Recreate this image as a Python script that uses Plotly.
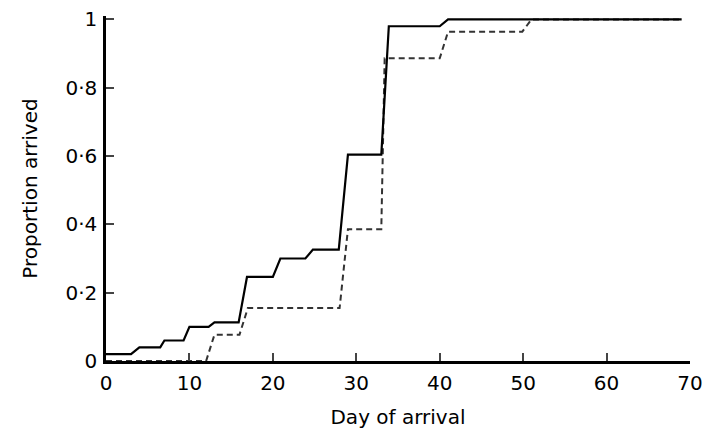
import plotly.graph_objects as go

# Solid curve (corner points)
solid_day = [0, 3, 4, 6.5, 7, 9.3, 10, 12.3, 13, 15.9, 16.9, 20, 20.9, 23.9, 24.8, 27.9, 29, 33, 33.9, 40, 41, 69]
solid_prop = [0.02, 0.02, 0.04, 0.04, 0.06, 0.06, 0.10, 0.10, 0.113, 0.113, 0.246, 0.246, 0.30, 0.30,
              0.326, 0.326, 0.604, 0.604, 0.98, 0.98, 1.0, 1.0]

# Dashed curve
dashed_day = [0, 12, 13, 16, 17, 28, 29, 33, 33.4, 40, 41, 49.9, 51, 69]
dashed_prop = [0, 0, 0.077, 0.077, 0.155, 0.155, 0.386, 0.386, 0.886, 0.886, 0.964, 0.964, 1.0, 1.0]

x_ticks = [0, 10, 20, 30, 40, 50, 60, 70]
y_ticks = [0, 0.2, 0.4, 0.6, 0.8, 1.0]
y_ticktext = ["0", "0·2", "0·4", "0·6", "0·8", "1"]

FONT = "DejaVu Sans"

fig = go.Figure()
fig.add_trace(go.Scatter(x=dashed_day, y=dashed_prop, mode="lines",
                         line=dict(color="#333333", width=2, dash="6px,4px"),
                         showlegend=False))
fig.add_trace(go.Scatter(x=solid_day, y=solid_prop, mode="lines",
                         line=dict(color="black", width=2.2),
                         showlegend=False))

fig.update_layout(
    width=715, height=432,
    margin=dict(l=98, r=33, t=8, b=79),
    plot_bgcolor="white", paper_bgcolor="white",
    font=dict(family=FONT, color="black", size=20),
    xaxis=dict(range=[0, 70], tickvals=x_ticks, ticks="inside", ticklen=8, tickwidth=1.5,
               showline=True, linewidth=2.5, linecolor="black", showgrid=False, zeroline=False,
               tickfont=dict(size=20), automargin=False, ticklabelstandoff=2,
               ticklabeloverflow="allow",
               title=dict(text="Day of arrival", font=dict(size=20), standoff=17)),
    yaxis=dict(range=[0, 1.01], tickvals=y_ticks, ticktext=y_ticktext, ticks="inside", ticklen=8,
               tickwidth=1.5, showline=True, linewidth=2.5, linecolor="black", showgrid=False,
               zeroline=False, tickfont=dict(size=20), automargin=False, ticklabelstandoff=2,
               ticklabeloverflow="allow",
               title=dict(text="Proportion arrived", font=dict(size=20), standoff=23)),
)

fig.write_html("out.html")
